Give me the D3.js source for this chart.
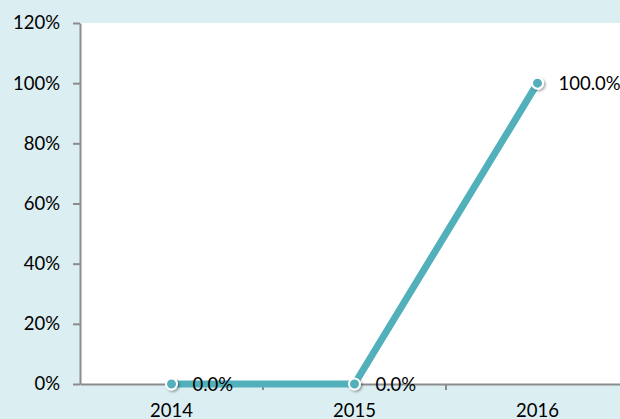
<!DOCTYPE html>
<html>
<head>
<meta charset="utf-8">
<script src="https://cdn.jsdelivr.net/npm/d3@7"></script>
<style>
  body { margin: 0; background: #dbeef2; }
  svg { display: block; font-family: Lato, "Open Sans", sans-serif; }
</style>
</head>
<body>
<svg id="chart" width="620" height="419"></svg>
<script>
// chart data
let years = ['2014', '2015', '2016'];
let values = [0, 0, 1];
let yTicks = [0, 0.2, 0.4, 0.6, 0.8, 1.0, 1.2];

let svg = d3.select('#chart');
let plotLeft = 80, plotTop = 23, plotBottom = 384, plotRight = 629;
let fontSize = 18.5;

svg.append('rect')
  .attr('width', 620).attr('height', 419)
  .attr('fill', '#dbeef2');

svg.append('rect')
  .attr('x', plotLeft).attr('y', plotTop)
  .attr('width', 620 - plotLeft).attr('height', plotBottom - plotTop)
  .attr('fill', '#ffffff');

let x = d3.scaleBand().domain(years).range([plotLeft, plotRight]);
let y = d3.scaleLinear().domain([0, 1.2]).range([plotBottom, plotTop]);

// y axis
let yAxis = svg.append('g')
  .attr('transform', 'translate(' + plotLeft + ',0)')
  .call(d3.axisLeft(y).tickValues(yTicks).tickSize(7).tickSizeOuter(0).tickPadding(13)
    .tickFormat(d3.format('.0%')));
yAxis.select('.domain').attr('stroke', '#8c8c8c').attr('stroke-width', 2);
yAxis.selectAll('line').attr('stroke', '#8c8c8c').attr('stroke-width', 2);
yAxis.selectAll('text').attr('font-size', fontSize).attr('fill', '#000').attr('font-family', 'Lato, sans-serif');

// x axis
let xAxis = svg.append('g')
  .attr('transform', 'translate(0,' + plotBottom + ')')
  .call(d3.axisBottom(x).tickSize(0).tickPadding(20));
xAxis.select('.domain').attr('stroke', '#8c8c8c').attr('stroke-width', 2);
xAxis.selectAll('text').attr('font-size', fontSize).attr('fill', '#000').attr('font-family', 'Lato, sans-serif');
// category boundary ticks
xAxis.selectAll('.boundary')
  .data(years.slice(1))
  .enter()
  .append('line')
  .attr('x1', d => x(d)).attr('x2', d => x(d))
  .attr('y1', 0).attr('y2', 6)
  .attr('stroke', '#8c8c8c').attr('stroke-width', 2);

let cx = d => x(d) + x.bandwidth() / 2;

// shadow filter
let defs = svg.append('defs');
let f = defs.append('filter').attr('id', 'shadow').attr('x', '-50%').attr('y', '-50%').attr('width', '200%').attr('height', '200%');
f.append('feDropShadow').attr('dx', 1.5).attr('dy', 1.5).attr('stdDeviation', 1.2).attr('flood-opacity', 0.35);

let line = d3.line().x((d, i) => cx(years[i])).y(d => y(d));
svg.append('path')
  .datum(values)
  .attr('d', line)
  .attr('fill', 'none')
  .attr('stroke', '#52b0bb')
  .attr('stroke-width', 7);

svg.selectAll('.marker')
  .data(values)
  .enter()
  .append('circle')
  .attr('cx', (d, i) => cx(years[i]))
  .attr('cy', d => y(d))
  .attr('r', 5.5)
  .attr('fill', '#52b0bb')
  .attr('stroke', '#ffffff')
  .attr('stroke-width', 2)
  .attr('filter', 'url(#shadow)');

svg.selectAll('.label')
  .data(values)
  .enter()
  .append('text')
  .attr('x', (d, i) => cx(years[i]) + 21)
  .attr('y', d => y(d) + 7)
  .attr('font-size', fontSize)
  .attr('fill', '#000')
  .text(d => d3.format('.1%')(d));
</script>
</body>
</html>
